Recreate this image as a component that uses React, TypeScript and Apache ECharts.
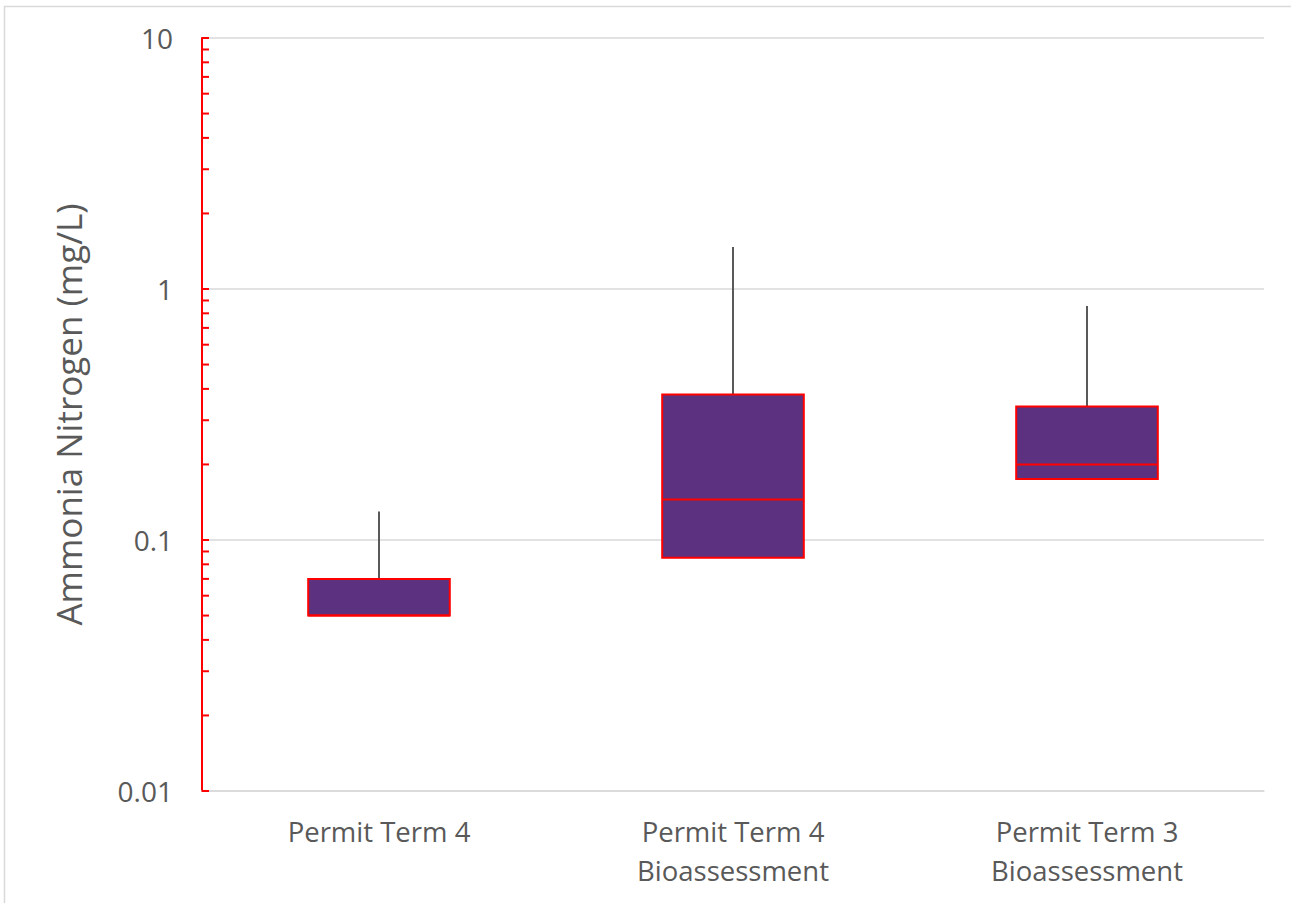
import React, { useEffect, useRef } from "react";
import * as echarts from "echarts";

// Sampling groups along the x axis
const categories = ["Permit Term 4", "Permit Term 4\nBioassessment", "Permit Term 3\nBioassessment"];

// Box-plot statistics per group (mg/L)
const minValues = [0.05, 0.085, 0.175];
const q1Values = [0.05, 0.085, 0.175];
const medianValues = [0.05, 0.145, 0.2];
const q3Values = [0.07, 0.38, 0.34];
const maxValues = [0.13, 1.47, 0.855];

// Log-axis labels and minor tick positions
const yTickLabels = ["0.01", "0.1", "1", "10"];
const minorTickValues = [
  0.02, 0.03, 0.04, 0.05, 0.06, 0.07, 0.08, 0.09,
  0.2, 0.3, 0.4, 0.5, 0.6, 0.7, 0.8, 0.9,
  2, 3, 4, 5, 6, 7, 8, 9,
];

const FONT = "'Open Sans', 'Noto Sans', sans-serif";
const BOX_FILL = "#5C3280";
const BOX_EDGE = "#FF0000";
const WHISKER = "#595959";

export default function App() {
  const ref = useRef<HTMLDivElement>(null);

  useEffect(() => {
    if (!ref.current) return;
    const chart = echarts.init(ref.current, null, { renderer: "svg" });

    const boxData = categories.map((_, i) => [
      i,
      minValues[i],
      q1Values[i],
      medianValues[i],
      q3Values[i],
      maxValues[i],
    ]);

    const option: any = {
      animation: false,
      backgroundColor: "#ffffff",
      graphic: [
        {
          type: "rect",
          shape: { x: 4.5, y: 6.5, width: 1400, height: 1000 },
          style: { fill: "none", stroke: "#d9d9d9", lineWidth: 1.5 },
          silent: true,
        },
      ],
      grid: { left: 202, right: 27, top: 38, bottom: 112 },
      xAxis: {
        type: "category",
        data: categories,
        boundaryGap: true,
        axisLine: { show: true, lineStyle: { color: "#d9d9d9", width: 1.5 } },
        axisTick: { show: false },
        axisLabel: {
          color: "#595959",
          fontFamily: FONT,
          fontSize: 27.5,
          lineHeight: 39,
          margin: 21,
        },
        splitLine: { show: false },
      },
      yAxis: {
        type: "log",
        logBase: 10,
        min: 0.01,
        max: 10,
        name: "Ammonia Nitrogen (mg/L)",
        nameLocation: "middle",
        nameGap: 116,
        nameTextStyle: { color: "#595959", fontFamily: FONT, fontSize: 35 },
        axisLine: { show: true, lineStyle: { color: "#FF0000", width: 2 } },
        axisTick: { show: true, inside: true, length: 7, lineStyle: { color: "#FF0000", width: 2 } },
        axisLabel: {
          color: "#595959",
          fontFamily: FONT,
          fontSize: 28,
          margin: 29,
          formatter: (v: number) => {
            const idx = Math.round(Math.log10(v)) + 2;
            return yTickLabels[idx] ?? String(v);
          },
        },
        splitLine: { show: true, lineStyle: { color: "#d9d9d9", width: 1.5 } },
      },
      series: [
        {
          type: "custom",
          name: "minor ticks",
          silent: true,
          data: minorTickValues.map((v) => [0, v]),
          encode: { x: 0, y: 1 },
          z: 5,
          renderItem: (params: any, api: any) => {
            const y = api.coord([0, api.value(1)])[1];
            const x0 = params.coordSys.x;
            return {
              type: "line",
              shape: { x1: x0, y1: y, x2: x0 + 7, y2: y },
              style: { stroke: "#FF0000", lineWidth: 2 },
            };
          },
        },
        {
          type: "custom",
          name: "Ammonia Nitrogen",
          data: boxData,
          encode: { x: 0, y: [1, 2, 3, 4, 5] },
          z: 3,
          renderItem: (_params: any, api: any) => {
            const idx = api.value(0);
            const band = api.size([1, 0])[0];
            const halfW = band * 0.2;
            const pMin = api.coord([idx, api.value(1)]);
            const pQ1 = api.coord([idx, api.value(2)]);
            const pMed = api.coord([idx, api.value(3)]);
            const pQ3 = api.coord([idx, api.value(4)]);
            const pMax = api.coord([idx, api.value(5)]);
            const cx = pQ1[0];
            return {
              type: "group",
              children: [
                {
                  type: "line",
                  shape: { x1: cx, y1: pMax[1], x2: cx, y2: pQ3[1] },
                  style: { stroke: WHISKER, lineWidth: 2 },
                },
                {
                  type: "line",
                  shape: { x1: cx, y1: pQ1[1], x2: cx, y2: pMin[1] },
                  style: { stroke: WHISKER, lineWidth: 2 },
                },
                {
                  type: "rect",
                  shape: { x: cx - halfW, y: pQ3[1], width: halfW * 2, height: pQ1[1] - pQ3[1] },
                  style: { fill: BOX_FILL, stroke: BOX_EDGE, lineWidth: 2 },
                },
                {
                  type: "line",
                  shape: { x1: cx - halfW, y1: pMed[1], x2: cx + halfW, y2: pMed[1] },
                  style: { stroke: BOX_EDGE, lineWidth: 2 },
                },
              ],
            };
          },
        },
      ],
    };

    chart.setOption(option);
    return () => chart.dispose();
  }, []);

  return (
    <div
      ref={ref}
      style={{ position: "fixed", left: 0, top: 0, width: 1291, height: 903 }}
    />
  );
}
